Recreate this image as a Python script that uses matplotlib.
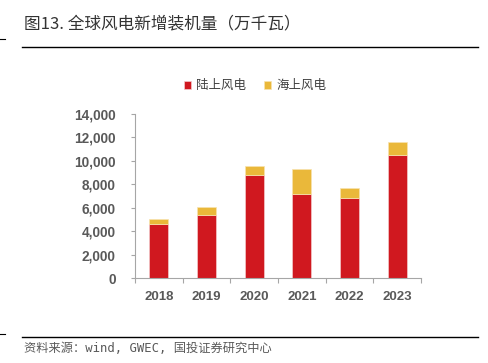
import matplotlib
matplotlib.use("Agg")
import matplotlib.pyplot as plt
import numpy as np

plt.rcParams['font.family'] = ['Noto Sans CJK SC', 'DejaVu Sans']

years = ['2018', '2019', '2020', '2021', '2022', '2023']
onshore = [4620, 5420, 8800, 7210, 6830, 10540]
offshore = [430, 620, 730, 2100, 890, 1100]
series_names = ['陆上风电', '海上风电']
yticks = [0, 2000, 4000, 6000, 8000, 10000, 12000, 14000]

red = '#D0181F'
yellow = '#EAB83A'
txt = '#595959'
spine = '#A6A6A6'

fig = plt.figure(figsize=(4.88, 3.63), dpi=100)
ax = fig.add_axes([135/488, 1-278/363, (421-135)/488, (278-114)/363])

x = np.arange(len(years))
ax.bar(x, onshore, width=0.4, color=red, edgecolor='#F3C9CB', linewidth=0.5, label=series_names[0])
ax.bar(x, offshore, width=0.4, bottom=onshore, color=yellow, edgecolor='#F7E3B0', linewidth=0.5, label=series_names[1])

ax.set_xlim(-0.5, len(years)-0.5)
ax.set_ylim(0, 14000)
ax.set_yticks(yticks)
ax.set_yticklabels([f'{v:,}' for v in yticks], fontsize=9.8, color=txt, fontweight='bold',
                   family=['Liberation Sans', 'DejaVu Sans'])
ax.set_xticks(x)
ax.set_xticklabels(years, fontsize=9.5, color=txt, fontweight='bold',
                   family=['Liberation Sans', 'DejaVu Sans'])
ax.set_xticks(np.arange(-0.5, len(years)), minor=True)
ax.tick_params(axis='x', which='major', length=0, pad=9)
ax.tick_params(axis='x', which='minor', length=3.5, color=spine, width=0.8)
ax.tick_params(axis='y', length=3, color=spine, width=0.8, pad=11)
for s in ['top', 'right']:
    ax.spines[s].set_visible(False)
for s in ['left', 'bottom']:
    ax.spines[s].set_color(spine)
    ax.spines[s].set_linewidth(0.8)

leg = ax.legend(loc='upper center', bbox_to_anchor=(0.42, 1.28), ncol=2, frameon=False,
                fontsize=9, handlelength=0.6, handleheight=0.6, handletextpad=0.4,
                columnspacing=1.4)
for t in leg.get_texts():
    t.set_color('#404040')

fig.text(24/488, 1-24/363, '图13. 全球风电新增装机量（万千瓦）', fontsize=12, color='#333333',
         va='center', ha='left', fontweight='medium')
fig.add_artist(plt.Line2D([22/488, 478/488], [1-47/363, 1-47/363], color='black', linewidth=1.0))
fig.add_artist(plt.Line2D([0, 5/488], [1-39/363, 1-39/363], color='black', linewidth=0.8))
fig.add_artist(plt.Line2D([22/488, 478/488], [1-337/363, 1-337/363], color='black', linewidth=1.0))
fig.add_artist(plt.Line2D([0, 5/488], [1-334/363, 1-334/363], color='black', linewidth=0.8))
fig.text(24/488, 1-348/363, '资料来源：wind, GWEC, 国投证券研究中心', fontsize=8.8, color='#595959',
         va='center', ha='left', family=['DejaVu Sans Mono', 'Noto Sans CJK SC'])

fig.savefig('out.png', dpi=100)
